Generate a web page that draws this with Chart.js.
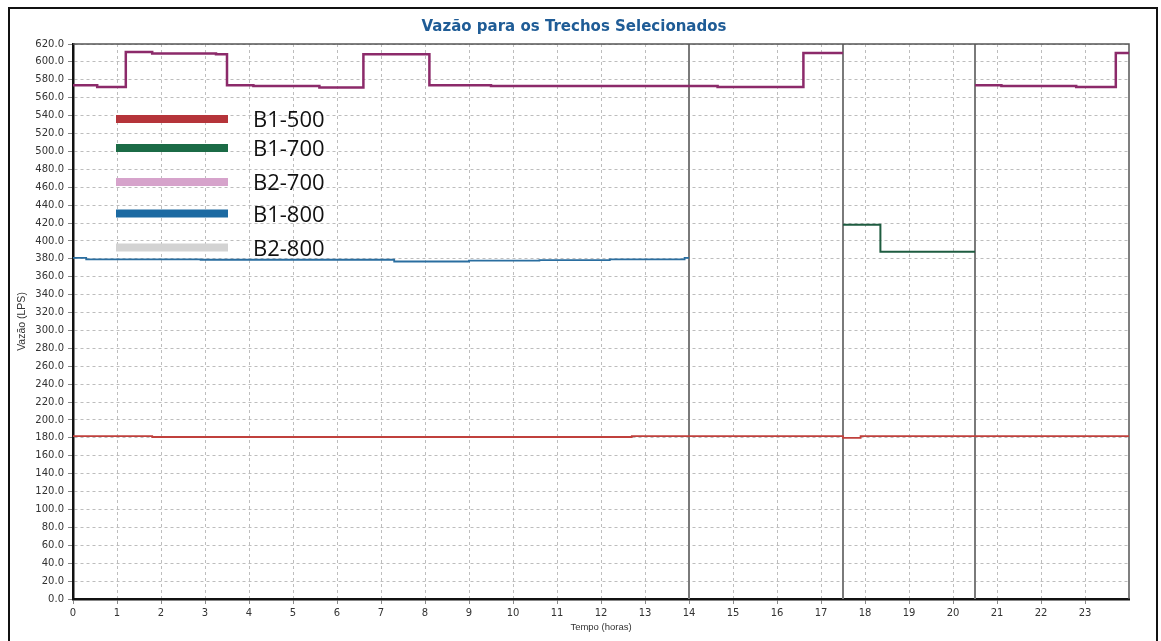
<!DOCTYPE html>
<html>
<head>
<meta charset="utf-8">
<script src="https://cdn.jsdelivr.net/npm/chart.js@4.4.0/dist/chart.umd.min.js"></script>
<style>
html,body{margin:0;padding:0;background:#fff;overflow:hidden;}
#wrap{position:relative;width:1161px;height:641px;}
#frame{position:absolute;left:8px;top:7px;width:1146px;height:700px;border:2px solid #111;pointer-events:none;}
</style>
</head>
<body>
<div id="wrap"><canvas id="myChart" width="1161" height="641"></canvas><div id="frame"></div></div>
<script>
// Eixo x: horas mostradas
var horas = [0,1,2,3,4,5,6,7,8,9,10,11,12,13,14,15,16,17,18,19,20,21,22,23];

// Cada serie: instantes de mudanca (t) e vazao em cada trecho (v); null = sem dado
var b1_500_t = [0, 1.8, 12.7, 17.5, 17.9, 24];
var b1_500_v = [182, 181, 182, 180, 182];

var b1_700_t = [17.5, 18.35, 20.5];
var b1_700_v = [418, 388];

var b2_700_t = [0, 0.55, 1.2, 1.8, 3.25, 3.5, 4.1, 5.6, 6.6, 8.1, 9.5, 14.65, 16.6, 17.5, 20.5, 21.1, 22.8, 23.7, 24];
var b2_700_v = [574, 572, 611, 609.5, 608.5, 574, 573, 571.5, 608.5, 574, 573, 572, 610, null, 574, 573, 572, 610];

var b1_800_t = [0, 0.3, 2.9, 7.3, 9.0, 10.6, 12.2, 13.9, 14];
var b1_800_v = [381, 379.5, 379, 377, 378, 378.5, 379.5, 381];

var b2_800_t = [];
var b2_800_v = [];

// linhas verticais
var marcas = [14, 17.5, 20.5];

var titulo = 'Vazão para os Trechos Selecionados';
var legendaCores = ['#b5343a', '#1b6b46', '#d6a3cb', '#1c6aa2', '#d3d3d3'];
var legendaY = [119, 148, 182, 213.5, 247.5];

function escada(t, v){
  var pts = [];
  for (var i = 0; i < v.length; i++) {
    if (v[i] === null) { pts.push({x: t[i], y: null}); continue; }
    pts.push({x: t[i], y: v[i]});
    pts.push({x: t[i+1], y: v[i]});
  }
  return pts;
}

var moldura = {
  id: 'moldura',
  beforeDatasetsDraw: function(chart){
    var ctx = chart.ctx, a = chart.chartArea, sx = chart.scales.x;
    ctx.save();
    ctx.strokeStyle = '#7a7a7a';
    ctx.lineWidth = 2;
    marcas.forEach(function(m){
      var px = sx.getPixelForValue(m);
      ctx.beginPath(); ctx.moveTo(px, a.top); ctx.lineTo(px, a.bottom); ctx.stroke();
    });
    ctx.strokeStyle = '#555';
    ctx.lineWidth = 1.5;
    ctx.beginPath();
    ctx.moveTo(a.left, a.top); ctx.lineTo(a.right, a.top); ctx.lineTo(a.right, a.bottom);
    ctx.stroke();
    ctx.restore();
  },
  afterDatasetsDraw: function(chart){
    var ctx = chart.ctx;
    ctx.save();
    chart.data.datasets.forEach(function(ds, i){
      var y = legendaY[i];
      ctx.fillStyle = legendaCores[i];
      ctx.fillRect(116, y - 4, 112, 8);
      ctx.fillStyle = '#111';
      ctx.font = '22px "Open Sans"';
      ctx.textAlign = 'left';
      ctx.textBaseline = 'alphabetic';
      ctx.fillText(ds.label, 253, y + 8);
    });
    ctx.font = 'bold 15px "DejaVu Sans"';
    ctx.fillStyle = '#1f5c96';
    ctx.textAlign = 'center';
    ctx.textBaseline = 'middle';
    ctx.fillText(titulo, 574, 27);
    ctx.restore();
  }
};

Chart.defaults.font.family = '"DejaVu Sans", sans-serif';

var ctx = document.getElementById('myChart');
var myChart = new Chart(ctx, {
  type: 'line',
  data: {
    datasets: [
      { label: 'B1-500', data: escada(b1_500_t, b1_500_v), borderColor: '#c0403c', borderWidth: 1.8 },
      { label: 'B1-700', data: escada(b1_700_t, b1_700_v), borderColor: '#1e5c40', borderWidth: 2 },
      { label: 'B2-700', data: escada(b2_700_t, b2_700_v), borderColor: '#8c2a6a', borderWidth: 2.5 },
      { label: 'B1-800', data: escada(b1_800_t, b1_800_v), borderColor: '#2a6ea0', borderWidth: 1.8 },
      { label: 'B2-800', data: escada(b2_800_t, b2_800_v), borderColor: '#c8c8c8', borderWidth: 1.8 }
    ]
  },
  options: {
    responsive: false,
    animation: false,
    spanGaps: false,
    layout: { padding: { top: 44, right: 32, left: 0, bottom: 0 } },
    elements: { point: { radius: 0 }, line: { tension: 0, fill: false } },
    plugins: { legend: { display: false }, title: { display: false }, tooltip: { enabled: false } },
    scales: {
      x: {
        type: 'linear', min: 0, max: 24,
        afterBuildTicks: function(s){ s.ticks = horas.map(function(h){ return {value: h}; }); },
        afterFit: function(s){ s.height = 42; },
        ticks: { color: '#333', font: { size: 10 }, padding: 3, maxRotation: 0, autoSkip: false },
        grid: { color: '#bdbdbd', tickLength: 5, tickColor: '#888' },
        border: { color: '#111', width: 2.5, dash: [3, 3] },
        title: { display: true, text: 'Tempo (horas)', color: '#333', font: { size: 9.5, family: '"Liberation Sans"' }, padding: { top: 0, bottom: 8 } }
      },
      y: {
        min: 0, max: 620,
        afterFit: function(s){ s.width = 73; },
        ticks: { stepSize: 20, color: '#333', font: { size: 10 }, padding: 4,
          callback: function(v){ return v.toFixed(1); } },
        grid: { color: '#bdbdbd', tickLength: 5, tickColor: '#888' },
        border: { color: '#111', width: 2.5, dash: [3, 3] },
        title: { display: true, text: 'Vazão (LPS)', color: '#333', font: { size: 10.5, family: '"Liberation Sans"' }, padding: { top: 16, bottom: 0 } }
      }
    }
  },
  plugins: [moldura]
});
</script>
</body>
</html>
